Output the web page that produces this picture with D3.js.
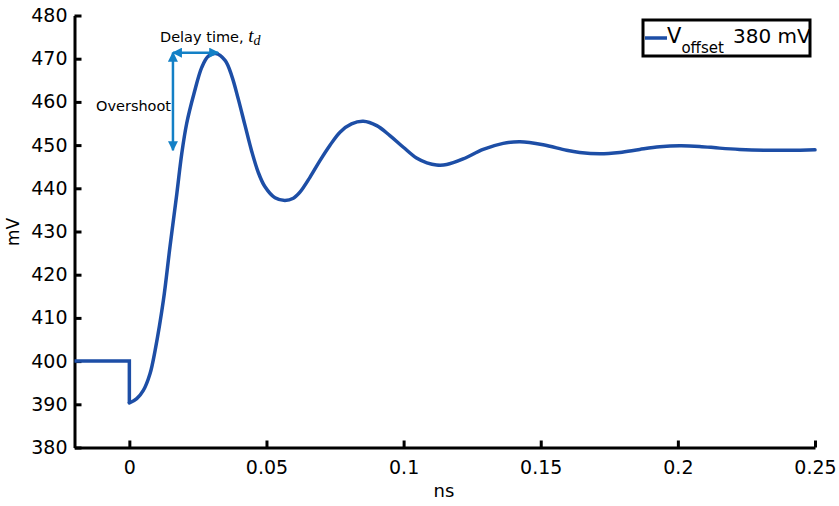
<!DOCTYPE html>
<html>
<head>
<meta charset="utf-8">
<script src="https://cdn.jsdelivr.net/npm/d3@7"></script>
<style>
  body { margin: 0; background: #fff; }
  svg text { font-family: "DejaVu Sans", sans-serif; fill: #000; }
</style>
</head>
<body>
<svg id="chart" width="839" height="506"></svg>
<script>
// Step response of the output node (time in ns, voltage in mV)
const stepTime = [-0.02, 0, 0];
const stepVoltage = [400, 400, 390.3];

const responseTime = [
  0, 0.0027, 0.0051, 0.0075, 0.0094, 0.0124, 0.0148, 0.0173, 0.0191, 0.0209,
  0.0236, 0.0264, 0.0288, 0.0315, 0.0349, 0.0373, 0.0397, 0.0422, 0.0446, 0.0470,
  0.0494, 0.0531, 0.0567, 0.0598, 0.0622, 0.0659, 0.0695, 0.0731, 0.0768, 0.0810,
  0.0853, 0.0902, 0.0950, 0.0999, 0.1047, 0.1085, 0.1120, 0.1157, 0.1217, 0.1290,
  0.1363, 0.1424, 0.1509, 0.1594, 0.1642, 0.1715, 0.1788, 0.1861, 0.1934, 0.2007,
  0.2079, 0.2152, 0.2225, 0.2323, 0.2408, 0.25
];
const responseVoltage = [
  390.3, 391.3, 393.2, 397.0, 402.5, 414.0, 426.4, 438.7, 448.0, 455.0,
  462.0, 468.0, 470.6, 471.2, 469.6, 466.1, 460.7, 454.5, 448.6, 443.7,
  440.4, 437.8, 437.2, 437.7, 439.1, 442.6, 446.4, 449.9, 453.0, 454.9,
  455.5, 454.5, 452.2, 449.5, 447.0, 445.9, 445.4, 445.5, 446.8, 449.0,
  450.4, 450.8, 450.1, 448.8, 448.3, 448.0, 448.3, 449.0, 449.6, 449.85,
  449.7, 449.3, 449.0, 448.8, 448.8, 448.9
];

const xTicks = [0, 0.05, 0.1, 0.15, 0.2, 0.25];
const xTickLabels = ["0", "0.05", "0.1", "0.15", "0.2", "0.25"];
const yTicks = [380, 390, 400, 410, 420, 430, 440, 450, 460, 470, 480];

const seriesName = "V";
const seriesSub = "offset";
const seriesValue = "380 mV";

// Annotation anchors (data units)
const peakVoltage = 471.4;
const settledVoltage = 448.8;
const overshootTime = 0.0159;
const peakTime = 0.0324;

const lineColor = "#1d4ea6";
const noteColor = "#1380c6";

const svg = d3.select("#chart");
const plot = { left: 74.5, right: 815, top: 15.5, bottom: 447.5 };

const x = d3.scaleLinear().domain([-0.02, 0.25]).range([plot.left, plot.right]);
const y = d3.scaleLinear().domain([380, 480]).range([plot.bottom, plot.top]);

// Axes with inward ticks
const xAxis = d3.axisBottom(x)
  .tickValues(xTicks)
  .tickFormat((d, i) => xTickLabels[i])
  .tickSizeInner(-7)
  .tickSizeOuter(0)
  .tickPadding(13.5);

const yAxis = d3.axisLeft(y)
  .tickValues(yTicks)
  .tickFormat(d3.format("d"))
  .tickSizeInner(-7)
  .tickSizeOuter(0)
  .tickPadding(7);

const gx = svg.append("g")
  .attr("transform", `translate(0,${plot.bottom})`)
  .call(xAxis);
const gy = svg.append("g")
  .attr("transform", `translate(${plot.left},0)`)
  .call(yAxis);

[gx, gy].forEach(g => {
  g.select(".domain").attr("stroke", "#000").attr("stroke-width", 3);
  g.selectAll(".tick line").attr("stroke", "#000").attr("stroke-width", 3);
  g.selectAll(".tick text")
    .attr("font-family", "DejaVu Sans, sans-serif")
    .attr("font-size", 19)
    .attr("fill", "#000");
});

// Axis titles
svg.append("text")
  .attr("transform", `translate(19,232) rotate(-90)`)
  .attr("text-anchor", "middle")
  .attr("font-size", 17)
  .text("mV");
svg.append("text")
  .attr("x", 444)
  .attr("y", 497)
  .attr("text-anchor", "middle")
  .attr("font-size", 18)
  .text("ns");

// Curve: sharp step at t=0, then a smooth ringing response
const stepPts = stepTime.map((t, i) => [t, stepVoltage[i]]);
const respPts = responseTime.map((t, i) => [t, responseVoltage[i]]);

svg.append("path")
  .attr("d", d3.line().x(d => x(d[0])).y(d => y(d[1]))(stepPts))
  .attr("fill", "none")
  .attr("stroke", lineColor)
  .attr("stroke-width", 3.5)
  .attr("stroke-linejoin", "miter");

svg.append("path")
  .attr("d", d3.line().x(d => x(d[0])).y(d => y(d[1])).curve(d3.curveCatmullRom.alpha(0.5))(respPts))
  .attr("fill", "none")
  .attr("stroke", lineColor)
  .attr("stroke-width", 3.5)
  .attr("stroke-linecap", "round");

// Arrow markers for the annotations
const defs = svg.append("defs");
defs.append("marker")
  .attr("id", "arrowHead")
  .attr("viewBox", "0 0 10 10")
  .attr("refX", 9)
  .attr("refY", 5)
  .attr("markerWidth", 4)
  .attr("markerHeight", 4)
  .attr("orient", "auto-start-reverse")
  .append("path")
  .attr("d", "M0,0 L10,5 L0,10 Z")
  .attr("fill", noteColor);

// Delay time arrow (horizontal)
svg.append("line")
  .attr("x1", x(overshootTime)).attr("x2", x(peakTime))
  .attr("y1", y(peakVoltage)).attr("y2", y(peakVoltage))
  .attr("stroke", noteColor).attr("stroke-width", 2.5)
  .attr("marker-start", "url(#arrowHead)")
  .attr("marker-end", "url(#arrowHead)");

// Overshoot arrow (vertical)
svg.append("line")
  .attr("x1", x(overshootTime)).attr("x2", x(overshootTime))
  .attr("y1", y(peakVoltage)).attr("y2", y(settledVoltage))
  .attr("stroke", noteColor).attr("stroke-width", 2.5)
  .attr("marker-start", "url(#arrowHead)")
  .attr("marker-end", "url(#arrowHead)");

// Annotation labels
const delayLabel = svg.append("text")
  .attr("x", 160)
  .attr("y", 42)
  .attr("font-family", "Open Sans, sans-serif")
  .attr("font-size", 14.5);
delayLabel.append("tspan").text("Delay time, ");
delayLabel.append("tspan")
  .attr("font-family", "Liberation Serif, serif")
  .attr("font-style", "italic")
  .attr("font-size", 19)
  .text("t");
delayLabel.append("tspan")
  .attr("font-family", "Liberation Serif, serif")
  .attr("font-style", "italic")
  .attr("font-size", 14)
  .attr("dy", 3)
  .text("d");

svg.append("text")
  .attr("x", 96)
  .attr("y", 111)
  .attr("font-family", "Open Sans, sans-serif")
  .attr("font-size", 14.5)
  .text("Overshoot");

// Legend
const legend = svg.append("g");
legend.append("rect")
  .attr("x", 643).attr("y", 20)
  .attr("width", 167).attr("height", 36)
  .attr("fill", "#fff")
  .attr("stroke", "#000")
  .attr("stroke-width", 3);
legend.append("line")
  .attr("x1", 645).attr("x2", 667)
  .attr("y1", 38).attr("y2", 38)
  .attr("stroke", lineColor)
  .attr("stroke-width", 3.5);
const legText = legend.append("text")
  .attr("x", 667)
  .attr("y", 43);
legText.append("tspan").attr("font-size", 21).text(seriesName);
legText.append("tspan").attr("font-size", 15).attr("dy", 10).text(seriesSub);
legend.append("text")
  .attr("x", 733)
  .attr("y", 43)
  .attr("font-size", 20)
  .text(seriesValue);
</script>
</body>
</html>
